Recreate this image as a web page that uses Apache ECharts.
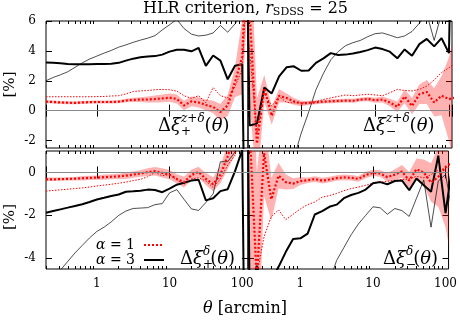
<!DOCTYPE html>
<html>
<head>
<meta charset="utf-8">
<script src="https://cdn.jsdelivr.net/npm/echarts@6/dist/echarts.min.js"></script>
<style>
  html, body { margin: 0; padding: 0; background: #fff; }
  #chart { width: 460px; height: 324px; }
</style>
</head>
<body>
<div id="chart"></div>
<script>
  // theta [arcmin], 0.1 dex bins
  const thetaL = [0.2, 0.251, 0.316, 0.398, 0.501, 0.631, 0.794, 1, 1.26, 1.58, 2, 2.51, 3.16, 3.98, 5.01, 6.31, 7.94,
    10, 12.6, 15.8, 20, 25.1, 31.6, 39.8, 50.1, 63.1, 79.4, 100, 126];
  const thetaR = [0.158, 0.2, 0.251, 0.316, 0.398, 0.501, 0.631, 0.794, 1, 1.26, 1.58, 2, 2.51, 3.16, 3.98, 5.01, 6.31, 7.94,
    10, 12.6, 15.8, 20, 25.1, 31.6, 39.8, 50.1, 63.1, 79.4, 100, 126];

  const xTickMinor = [0.2, 0.3, 0.4, 0.5, 0.6, 0.7, 0.8, 0.9, 2, 3, 4, 5, 6, 7, 8, 9, 20, 30, 40, 50, 60, 70, 80, 90];
  const yTicksTop = [-2, 0, 2, 4, 6];
  const yTicksBottom = [-4, -2, 0];

  // top panel: Delta xi^{z+delta}, left = plus, right = minus
  const tpA3 = [3.22, 3.2, 3.17, 3.12, 3.1, 3.1, 3.1, 3.12, 3.13, 3.14, 3.2, 3.35, 3.48, 3.57, 3.62, 3.65, 3.75, 3.95, 4.08, 4.08, 3.97, 4.2, 3.0, 3.69, 3.35, 2.1, 3.0, 3.1, -30];
  const tpThin = [2.0, 2.22, 2.4, 2.6, 2.9, 3.2, 3.45, 3.65, 3.85, 4.03, 4.25, 4.4, 4.57, 4.72, 4.85, 5.02, 5.4, 5.75, 6.1, 5.5, 5.12, 5.0, 5.05, 5.2, 5.7, 5.25, 5.8, 6.5, 10];
  const tpA1 = [0.6, 0.58, 0.55, 0.53, 0.52, 0.55, 0.57, 0.58, 0.58, 0.58, 0.6, 0.68, 0.72, 0.74, 0.75, 0.78, 0.82, 0.87, 0.78, 0.35, 0.62, 0.55, 0.38, 0.25, -0.1, 0.35, 1.9, 3.6, 15];
  const tpA1err = [0.1, 0.1, 0.1, 0.1, 0.1, 0.1, 0.1, 0.1, 0.1, 0.1, 0.1, 0.12, 0.14, 0.16, 0.2, 0.24, 0.26, 0.28, 0.3, 0.32, 0.32, 0.34, 0.36, 0.42, 0.55, 0.7, 1.0, 2.5, 6];
  const tpThinRed = [0.93, 0.93, 0.93, 0.93, 0.93, 0.93, 0.93, 0.94, 0.95, 0.98, 1.0, 1.12, 1.28, 1.32, 1.35, 1.4, 1.42, 1.4, 1.31, 1.0, 0.82, 1.0, 0.53, 1.55, 1.0, 0.85, 1.6, 2.8, 12];

  const tmA3 = [30, -1.0, -0.87, 1.55, 1.15, 2.3, 2.9, 2.97, 2.67, 2.69, 3.2, 3.5, 3.85, 3.73, 3.75, 3.82, 3.92, 4.05, 4.22, 4.12, 3.95, 3.5, 4.1, 3.67, 4.45, 4.8, 4.3, 4.85, 3.85, 30];
  const tmThin = [-10, -10, -10, -10, -9, -7, -5, -3.2, -1.5, -0.1, 1.4, 2.5, 3.4, 3.95, 4.35, 4.55, 4.7, 4.95, 5.15, 5.2, 5.05, 4.88, 5.0, 5.3, 5.85, 6.5, 4.7, 6.5, 7, 8];
  const tmA1 = [10, 6.5, -2.2, 1.5, -0.35, 1.0, 0.85, 0.62, 0.48, 0.52, 0.56, 0.6, 0.63, 0.65, 0.67, 0.66, 0.74, 0.78, 0.7, 0.74, 0.55, 0.26, 0.95, 0.31, 1.1, 1.25, 0.55, 1.0, 0.77, 0.9];
  const tmA1err = [8, 6, 3, 0.9, 0.6, 0.45, 0.3, 0.22, 0.18, 0.15, 0.13, 0.13, 0.13, 0.13, 0.13, 0.13, 0.13, 0.15, 0.17, 0.2, 0.25, 0.35, 0.45, 0.55, 0.65, 0.8, 0.95, 1.3, 2.8, 5];
  const tmThinRed = [8, 4, -1.5, 1.2, 0.3, 0.95, 0.55, 0.52, 0.52, 0.53, 0.6, 0.75, 0.85, 0.95, 1.05, 1.0, 1.05, 1.1, 1.05, 1.0, 1.2, 1.42, 1.35, 1.32, 1.42, 1.64, 2.05, 2.55, 2.87, 3.2];

  // bottom panel: Delta xi^{delta}
  const bpA3 = [-1.88, -1.8, -1.72, -1.64, -1.56, -1.48, -1.38, -1.26, -1.18, -1.1, -1.03, -0.9, -0.88, -0.85, -0.8, -0.82, -0.92, -0.75, -0.57, -0.48, -0.38, -0.34, -1.3, -1.2, -0.87, -0.78, 0.05, 1.05, -30];
  const bpThin = [-5.4, -5.0, -4.55, -4.15, -3.75, -3.4, -3.05, -2.75, -2.55, -2.3, -2.0, -1.8, -1.68, -1.66, -1.64, -1.5, -1.45, -0.95, -0.8, -1.25, -1.7, -1.77, -1.4, -1.0, 0.5, 0.5, 0.95, 3, 8];
  const bpA1 = [-0.32, -0.32, -0.31, -0.3, -0.29, -0.27, -0.25, -0.24, -0.22, -0.2, -0.18, -0.15, -0.1, -0.05, 0.02, 0.06, -0.02, -0.1, -0.3, -0.45, -0.12, 0.02, -0.3, -0.55, -0.1, 0.75, 1.8, 4, 10];
  const bpA1err = [0.08, 0.08, 0.08, 0.08, 0.08, 0.1, 0.1, 0.1, 0.12, 0.12, 0.12, 0.15, 0.15, 0.15, 0.18, 0.2, 0.22, 0.22, 0.22, 0.25, 0.25, 0.25, 0.28, 0.33, 0.4, 0.6, 1.0, 2.5, 6];
  const bpThinRed = [-0.87, -0.84, -0.81, -0.78, -0.75, -0.72, -0.68, -0.63, -0.59, -0.55, -0.5, -0.45, -0.38, -0.32, -0.2, 0.0, -0.15, -0.1, -0.35, -0.55, -0.3, -0.25, -0.4, -0.7, -0.3, 0.35, 0.8, 2.5, 8];

  const bmA3 = [30, -6, -4.35, -5.5, -5, -4.4, -3.7, -3.1, -3.07, -2.85, -1.96, -1.8, -1.6, -1.5, -1.2, -1.05, -0.95, -0.8, -0.5, -0.45, -0.55, -0.4, -0.37, -0.83, -0.28, -0.6, -0.9, 0.78, -1.9, 0.5];
  const bmThin = [-10, -10, -10, -10, -10, -10, -10, -10, -10, -10, -10, -7, -5.1, -4.1, -3.5, -2.9, -2.4, -2.0, -1.6, -1.65, -1.95, -1.68, -1.78, -2.05, -1.2, -0.35, -2.55, -0.4, -0.1, -2];
  const bmA1 = [3, 2, -5, 0.9, -1.25, -0.15, -0.45, -0.52, -0.4, -0.36, -0.31, -0.38, -0.33, -0.26, -0.23, -0.25, -0.3, -0.12, -0.02, -0.05, -0.22, -0.1, 0.05, -0.38, 0.15, 0.0, -0.47, -0.2, 0.25, 0.5];
  const bmA1err = [8, 8, 5, 2, 1.0, 0.6, 0.35, 0.25, 0.18, 0.13, 0.13, 0.13, 0.13, 0.13, 0.13, 0.13, 0.13, 0.15, 0.15, 0.15, 0.2, 0.25, 0.3, 0.4, 0.5, 0.6, 0.9, 1.4, 2.8, 5];
  const bmThinRed = [-10, -8, -4.8, -3.0, -2.05, -1.75, -2.2, -1.95, -1.7, -1.5, -1.38, -1.15, -1.08, -0.98, -0.85, -0.75, -0.68, -0.6, -0.5, -0.45, -0.41, -0.37, -0.33, -0.3, -0.18, -0.25, -0.1, 0.1, 0.2, 0.3];

  const SERIF = "'DejaVu Serif', serif";
  const RED = '#ff0000';
  const BAND = 'rgba(255, 0, 0, 0.3)';

  let chartDom = document.getElementById('chart');
  let myChart = echarts.init(chartDom, null, { renderer: 'canvas' });

  // panels: [left, top, width, height, xmin, xmax, ymin, ymax]
  const panels = [
    [46, 21, 202, 127, 0.2, 120, -2.5, 6],
    [248, 21, 204, 127, 0.19, 110, -2.5, 6],
    [46, 151, 202, 118, 0.2, 120, -4.5, 1],
    [248, 151, 204, 118, 0.19, 110, -4.5, 1]
  ];

  function decadeLabel(v) {
    let e = Math.log10(v);
    return Math.abs(e - Math.round(e)) < 1e-6 ? String(Math.round(v)) : '';
  }

  let grids = [], xAxes = [], yAxes = [];
  panels.forEach((p, g) => {
    grids.push({ left: p[0], top: p[1], width: p[2], height: p[3], show: true, borderColor: '#000', borderWidth: 1, backgroundColor: 'transparent' });
    ['bottom', 'top'].forEach(pos => {
      xAxes.push({
        type: 'log', logBase: 10, gridIndex: g, position: pos, min: p[4], max: p[5],
        axisLine: { show: false }, splitLine: { show: false },
        axisTick: { inside: true, length: 6, lineStyle: { color: '#000' } },
        axisLabel: { show: pos === 'bottom' && g >= 2, formatter: decadeLabel, fontFamily: SERIF, fontSize: 12, color: '#000', margin: 9 }
      });
    });
    ['bottom', 'top'].forEach(pos => {
      xAxes.push({
        type: 'log', logBase: 10, gridIndex: g, position: pos, min: p[4], max: p[5],
        axisLine: { show: false }, splitLine: { show: false }, axisLabel: { show: false },
        axisTick: { inside: true, length: 3, customValues: xTickMinor, lineStyle: { color: '#000' } }
      });
    });
    const ticks = g < 2 ? yTicksTop : yTicksBottom;
    const isLeft = g % 2 === 0;
    yAxes.push({
      type: 'value', gridIndex: g, position: 'left', min: p[6], max: p[7],
      axisLine: { show: false }, splitLine: { show: false },
      axisTick: { inside: true, length: 6, customValues: ticks, lineStyle: { color: '#000' } },
      axisLabel: { show: isLeft, customValues: ticks, fontFamily: SERIF, fontSize: 12, color: '#000', margin: 10 },
      name: isLeft ? '[%]' : '', nameLocation: 'middle', nameRotate: 90, nameGap: 28,
      nameTextStyle: { fontFamily: SERIF, fontSize: 15, color: '#000', padding: g === 2 ? [0, 14, 0, 0] : 0 }
    });
    yAxes.push({
      type: 'value', gridIndex: g, position: 'right', min: p[6], max: p[7],
      axisLine: { show: false }, splitLine: { show: false }, axisLabel: { show: false },
      axisTick: { inside: true, length: 6, customValues: ticks, lineStyle: { color: '#000' } }
    });
  });

  function band(g, theta, mid, err) {
    return {
      type: 'custom', xAxisIndex: g * 4, yAxisIndex: g * 2, silent: true,
      data: theta.map((t, i) => [t, mid[i] - err[i], mid[i] + err[i]]),
      encode: { x: 0, y: [1, 2] },
      renderItem(params, api) {
        if (params.dataIndex !== 0) return null;
        let up = [], lo = [];
        theta.forEach((t, i) => {
          up.push(api.coord([t, mid[i] + err[i]]));
          lo.push(api.coord([t, mid[i] - err[i]]));
        });
        const cs = params.coordSys;
        return {
          type: 'polygon', shape: { points: up.concat(lo.reverse()) }, style: { fill: BAND },
          clipPath: { type: 'rect', shape: { x: cs.x, y: cs.y, width: cs.width, height: cs.height } }
        };
      }
    };
  }

  function line(g, name, theta, vals, lineStyle, extra) {
    return Object.assign({
      type: 'line', name: name, xAxisIndex: g * 4, yAxisIndex: g * 2,
      data: theta.map((t, i) => [t, vals[i]]),
      symbol: 'none', clip: true, silent: true, lineStyle: lineStyle,
      itemStyle: { color: lineStyle.color }
    }, extra || {});
  }

  const zeroLine = {
    markLine: {
      silent: true, symbol: ['none', 'none'], label: { show: false },
      lineStyle: { color: '#888', width: 1, type: 'solid' }, data: [{ yAxis: 0 }]
    }
  };

  const sets = [
    [thetaL, tpA3, tpThin, tpA1, tpA1err, tpThinRed],
    [thetaR, tmA3, tmThin, tmA1, tmA1err, tmThinRed],
    [thetaL, bpA3, bpThin, bpA1, bpA1err, bpThinRed],
    [thetaR, bmA3, bmThin, bmA1, bmA1err, bmThinRed]
  ];

  let series = [];
  sets.forEach((s, g) => {
    series.push(band(g, s[0], s[3], s[4]));
    series.push(line(g, 'thin3', s[0], s[2], { color: '#000', width: 0.7 }, zeroLine));
    series.push(line(g, 'thin1', s[0], s[5], { color: RED, width: 1, type: [1.5, 1.5] }));
    series.push(line(g, 'a3', s[0], s[1], { color: '#000', width: 2 }));
    series.push(line(g, 'a1', s[0], s[3], { color: RED, width: 2.2, type: [2, 2] }));
  });

  function tok(size, italic, lh, pad, extra) {
    return Object.assign({
      fontFamily: SERIF, fontSize: size, fontStyle: italic ? 'italic' : 'normal', fontWeight: 'normal',
      lineHeight: lh, color: '#000', padding: pad || 0
    }, extra || {});
  }

  const mathRich = {
    m: tok(18, false, 28),
    g: tok(18, true, 28),
    sub: tok(12, false, 28, [12, 0, 0, 0], { width: 0.1 }),
    supi: tok(12, true, 28, [0, 0, 14, 0]),
    supr: tok(12, false, 28, [0, 0, 14, 0])
  };

  function annot(text, left, top) {
    return { text: text, left: left, top: top, padding: 0, textStyle: { fontWeight: 'normal', rich: mathRich } };
  }

  let option = {
    animation: false,
    backgroundColor: '#fff',
    title: [
      {
        text: '{t|HLR criterion, }{i|r}{s|SDSS}{t| = 25}', left: 143, top: -1, padding: 0,
        textStyle: {
          fontWeight: 'normal',
          rich: { t: tok(16, false, 20), i: tok(16, true, 20), s: tok(11, false, 20, [6, 0, 0, 0]) }
        }
      },
      annot('{m|Δ}{g|ξ}{sub|+}{supi|z}{supr|+}{supi|δ}{m|(}{g|θ}{m|)}', 158, 112),
      annot('{m|Δ}{g|ξ}{sub|−}{supi|z}{supr|+}{supi|δ}{m|(}{g|θ}{m|)}', 363, 112),
      annot('{m|Δ}{g|ξ}{sub|+}{supi|δ}{m|(}{g|θ}{m|)}', 180, 245),
      annot('{m|Δ}{g|ξ}{sub|−}{supi|δ}{m|(}{g|θ}{m|)}', 383, 245),
      {
        text: '{g|θ}{m| [arcmin]}', left: 203, top: 299, padding: 0,
        textStyle: { fontWeight: 'normal', rich: { g: tok(16, true, 20), m: tok(16, false, 20) } }
      }
    ],
    legend: {
      data: ['a1', 'a3'], left: 96, top: 238, orient: 'vertical', align: 'right',
      itemWidth: 20, itemHeight: 10, itemGap: 1, selectedMode: false, padding: 0,
      itemStyle: { opacity: 0 },
      formatter: n => n === 'a1' ? '{i|α} = 1' : '{i|α} = 3',
      textStyle: {
        fontFamily: SERIF, fontSize: 14, fontWeight: 'normal', color: '#000', lineHeight: 14, padding: [0, 4, 0, 0],
        rich: { i: tok(14, true, 14) }
      }
    },
    grid: grids,
    xAxis: xAxes,
    yAxis: yAxes,
    series: series
  };
  option && myChart.setOption(option);
</script>
</body>
</html>
